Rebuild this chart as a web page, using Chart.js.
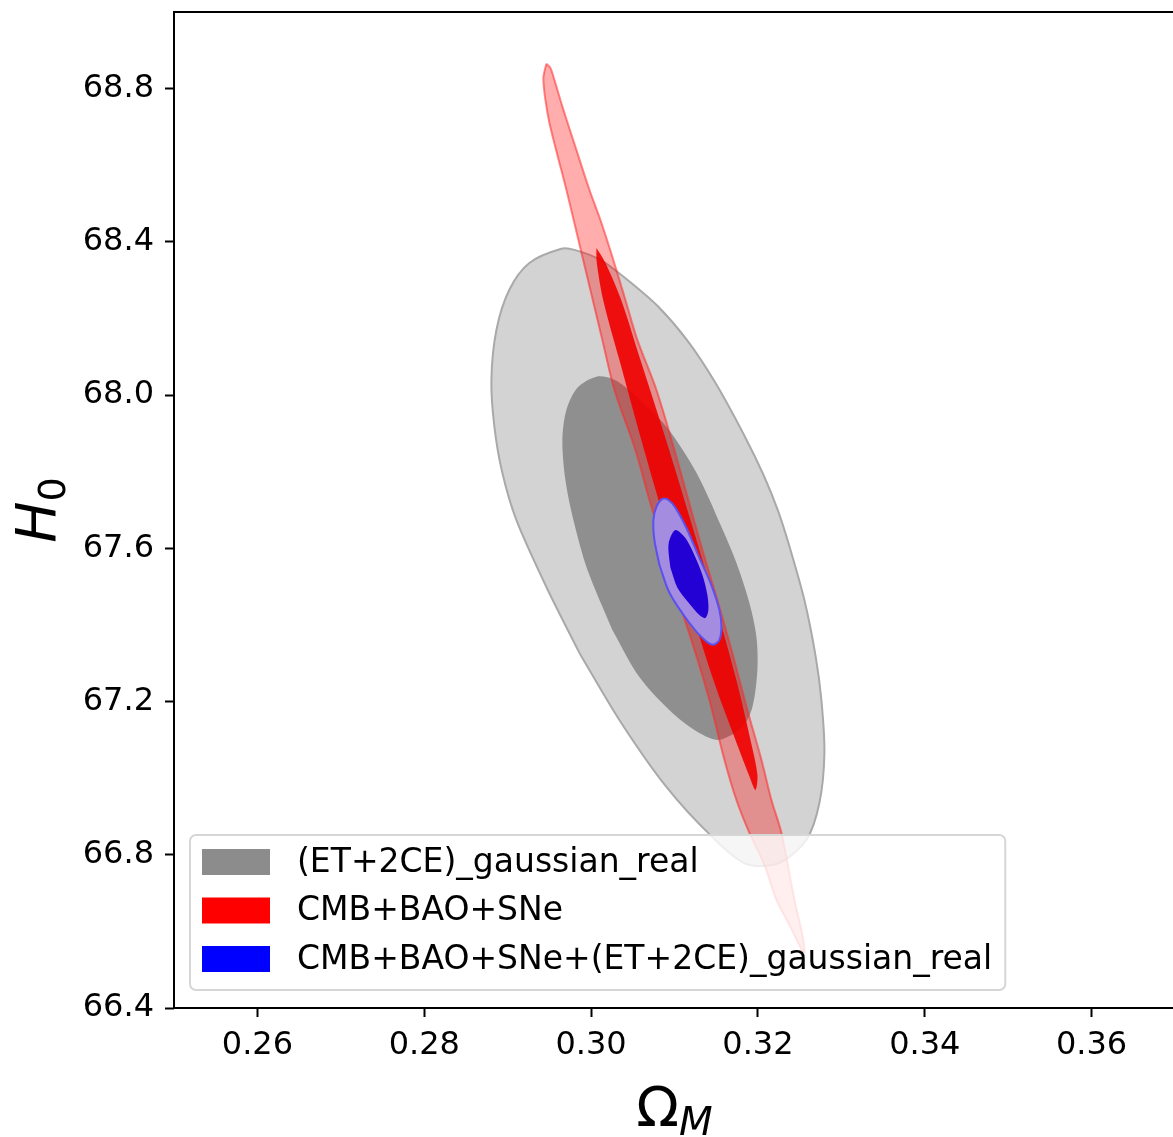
<!DOCTYPE html>
<html>
<head>
<meta charset="utf-8">
<title>Omega_M - H0 contours</title>
<script src="https://cdn.jsdelivr.net/npm/chart.js@4.4.1/dist/chart.umd.min.js"></script>
<style>
  html, body { margin: 0; padding: 0; background: #fff; overflow: hidden; }
  #wrap { position: relative; width: 1180px; height: 1137px; }
</style>
</head>
<body>
<div id="wrap"><canvas id="contours"></canvas></div>
<script>
// axes
const xRange = [0.25, 0.37];
const yRange = [66.4, 69.0];
const xTickValues = [0.26, 0.28, 0.30, 0.32, 0.34, 0.36];
const yTickValues = [66.4, 66.8, 67.2, 67.6, 68.0, 68.4, 68.8];
const xTitle = ['Ω', 'M'];
const yTitle = ['H', '0'];

const seriesLabels = [
  '(ET+2CE)_gaussian_real',
  'CMB+BAO+SNe',
  'CMB+BAO+SNe+(ET+2CE)_gaussian_real'
];
const legendColors = ['#8c8c8c', '#ff0000', '#0000ff'];

// contour outlines, [Omega_M, H0]
const gwOuter = [
  [0.29860, 67.327], [0.30339, 67.152], [0.30903, 66.977], [0.31454, 66.846], [0.31862, 66.776],
  [0.32258, 66.779], [0.32581, 66.839], [0.32737, 66.935], [0.32797, 67.066], [0.32761, 67.204],
  [0.32689, 67.322], [0.32557, 67.465], [0.32390, 67.596], [0.32246, 67.695], [0.32066, 67.792],
  [0.31838, 67.894], [0.31490, 68.032], [0.31155, 68.142], [0.30795, 68.233], [0.30423, 68.303],
  [0.30112, 68.353], [0.29800, 68.379], [0.29644, 68.382], [0.29260, 68.345], [0.29020, 68.275],
  [0.28865, 68.170], [0.28805, 68.040], [0.28841, 67.917], [0.28936, 67.797], [0.29104, 67.674],
  [0.29464, 67.499]
];
const gwInner = [
  [0.30255, 67.387], [0.30579, 67.264], [0.30975, 67.170], [0.31298, 67.118], [0.31538, 67.100],
  [0.31814, 67.134], [0.31934, 67.186], [0.31994, 67.283], [0.31982, 67.369], [0.31898, 67.457],
  [0.31742, 67.562], [0.31562, 67.656], [0.31263, 67.797], [0.30903, 67.917], [0.30519, 68.001],
  [0.30279, 68.040], [0.30064, 68.048], [0.29836, 68.019], [0.29704, 67.961], [0.29656, 67.883],
  [0.29692, 67.779], [0.29788, 67.674], [0.29956, 67.544]
];
const cmbOuter = [
  [0.29464, 68.865], [0.29428, 68.828], [0.29452, 68.771], [0.29500, 68.711], [0.29596, 68.627],
  [0.29704, 68.536], [0.29896, 68.361], [0.30135, 68.144], [0.30279, 68.014], [0.30531, 67.857],
  [0.30699, 67.726], [0.30879, 67.596], [0.31047, 67.465], [0.31251, 67.327], [0.31418, 67.204],
  [0.31598, 67.048], [0.31742, 66.943], [0.31898, 66.857], [0.32078, 66.773], [0.32222, 66.682],
  [0.32378, 66.617], [0.32497, 66.564], [0.32557, 66.544], [0.32533, 66.591], [0.32438, 66.682],
  [0.32282, 66.857], [0.32162, 66.943], [0.32042, 67.048], [0.31874, 67.178], [0.31694, 67.327],
  [0.31514, 67.465], [0.31334, 67.596], [0.31167, 67.726], [0.30999, 67.857], [0.30783, 68.014],
  [0.30555, 68.144], [0.30411, 68.249], [0.30255, 68.361], [0.30112, 68.457], [0.29980, 68.536],
  [0.29824, 68.640], [0.29656, 68.753], [0.29560, 68.823], [0.29512, 68.854]
];
const cmbInner = [
  [0.30064, 68.384], [0.30067, 68.348], [0.30144, 68.249], [0.30339, 68.092], [0.30602, 67.883],
  [0.30875, 67.677], [0.31164, 67.465], [0.31466, 67.256], [0.31730, 67.100], [0.31892, 67.008],
  [0.31970, 66.969], [0.31994, 67.008], [0.31910, 67.100], [0.31742, 67.256], [0.31476, 67.465],
  [0.31187, 67.677], [0.30899, 67.883], [0.30591, 68.092], [0.30360, 68.249], [0.30165, 68.348]
];
const jointOuter = [
  [0.30819, 67.557], [0.30939, 67.484], [0.31179, 67.405], [0.31358, 67.361], [0.31466, 67.348],
  [0.31538, 67.361], [0.31562, 67.395], [0.31538, 67.439], [0.31442, 67.504], [0.31298, 67.575],
  [0.31143, 67.653], [0.31011, 67.706], [0.30927, 67.726], [0.30855, 67.729], [0.30783, 67.708],
  [0.30747, 67.674], [0.30759, 67.622]
];
const jointInner = [
  [0.30951, 67.549], [0.31035, 67.497], [0.31179, 67.455], [0.31298, 67.426], [0.31370, 67.418],
  [0.31406, 67.439], [0.31394, 67.478], [0.31334, 67.531], [0.31227, 67.588], [0.31119, 67.630],
  [0.31011, 67.648], [0.30939, 67.622], [0.30927, 67.596]
];

// close the outline and turn [x, y] pairs into points
const closed = (pts) => pts.concat([pts[0]]).map(([x, y]) => ({ x, y }));

const contour = (label, pts, fillColor, edgeColor, edgeWidth, order) => ({
  label,
  data: closed(pts),
  showLine: true,
  fill: 'shape',
  backgroundColor: fillColor,
  borderColor: edgeColor,
  borderWidth: edgeWidth,
  pointRadius: 0,
  pointHoverRadius: 0,
  tension: 0.3,
  order
});

const FONT = '"DejaVu Sans", "Liberation Sans", sans-serif';

// legend drawn inside the axes, like matplotlib's lower left legend
const legendBox = {
  id: 'legendBox',
  afterDatasetsDraw(chart) {
    const { ctx, chartArea: a } = chart;
    ctx.save();
    ctx.font = '33px ' + FONT;
    const textW = Math.max(...seriesLabels.map(t => ctx.measureText(t).width));
    const x0 = a.left + 16;
    const h = 155;
    const y0 = a.bottom - 18 - h;
    const w = 12 + 68 + 27 + textW + 13;

    ctx.beginPath();
    ctx.roundRect(x0, y0, w, h, 6);
    ctx.fillStyle = 'rgba(255,255,255,0.8)';
    ctx.fill();
    ctx.lineWidth = 2;
    ctx.strokeStyle = '#d6d6d6';
    ctx.stroke();

    seriesLabels.forEach((label, i) => {
      const py = y0 + 14 + i * 48.5;
      ctx.fillStyle = legendColors[i];
      ctx.fillRect(x0 + 12, py, 68, 26);
      ctx.fillStyle = '#000';
      ctx.textBaseline = 'middle';
      ctx.textAlign = 'left';
      ctx.fillText(label, x0 + 107, py + 14);
    });
    ctx.restore();
  }
};

// axes frame and math-style axis titles
const frameAndTitles = {
  id: 'frameAndTitles',
  afterDraw(chart) {
    const { ctx, chartArea: a } = chart;
    ctx.save();
    ctx.strokeStyle = '#000';
    ctx.lineWidth = 2;
    ctx.strokeRect(a.left, a.top, a.right - a.left, a.bottom - a.top);

    ctx.fillStyle = '#000';
    ctx.textAlign = 'left';
    ctx.textBaseline = 'alphabetic';

    // x title
    ctx.font = '56px ' + FONT;
    const wO = ctx.measureText(xTitle[0]).width;
    ctx.font = 'italic 39px ' + FONT;
    const wM = ctx.measureText(xTitle[1]).width;
    const xs = (a.left + a.right) / 2 - (wO + wM) / 2;
    ctx.font = '56px ' + FONT;
    ctx.fillText(xTitle[0], xs, a.bottom + 118);
    ctx.font = 'italic 39px ' + FONT;
    ctx.fillText(xTitle[1], xs + wO, a.bottom + 127);

    // y title, rotated
    ctx.font = 'italic 55px ' + FONT;
    const wH = ctx.measureText(yTitle[0]).width;
    ctx.font = '38px ' + FONT;
    const w0 = ctx.measureText(yTitle[1]).width;
    ctx.translate(a.left - 119, (a.top + a.bottom) / 2);
    ctx.rotate(-Math.PI / 2);
    const ys = -(wH + w0) / 2;
    ctx.font = 'italic 55px ' + FONT;
    ctx.fillText(yTitle[0], ys, 0);
    ctx.font = '38px ' + FONT;
    ctx.fillText(yTitle[1], ys + wH, 10);
    ctx.restore();
  }
};

const tickGrid = {
  drawOnChartArea: false,
  drawTicks: true,
  tickLength: 9,
  tickWidth: 2,
  tickColor: '#000'
};

new Chart(document.getElementById('contours'), {
  type: 'scatter',
  data: {
    datasets: [
      contour(seriesLabels[0], gwOuter, '#d3d3d3', '#a9a9a9', 2, 6),
      contour(seriesLabels[0], gwInner, '#8f8f8f', 'rgba(0,0,0,0)', 1, 5),
      contour(seriesLabels[1], cmbOuter, 'rgba(255,0,0,0.32)', 'rgba(255,40,40,0.55)', 2, 4),
      contour(seriesLabels[1], cmbInner, 'rgba(240,0,0,0.9)', 'rgba(0,0,0,0)', 1, 3),
      contour(seriesLabels[2], jointOuter, '#a48ce0', '#5b50f0', 2, 2),
      contour(seriesLabels[2], jointInner, '#2300d3', 'rgba(0,0,0,0)', 1, 1)
    ]
  },
  options: {
    responsive: true,
    maintainAspectRatio: false,
    animation: false,
    events: [],
    layout: { padding: { top: 12, right: 5, left: 0, bottom: 0 } },
    plugins: {
      legend: { display: false },
      tooltip: { enabled: false }
    },
    scales: {
      x: {
        type: 'linear',
        min: xRange[0],
        max: xRange[1],
        border: { display: false },
        grid: tickGrid,
        ticks: {
          color: '#000',
          padding: 9,
          maxRotation: 0,
          font: { family: FONT, size: 32 },
          callback: v => v.toFixed(2)
        },
        afterBuildTicks: s => { s.ticks = xTickValues.map(v => ({ value: v })); },
        afterFit: s => { s.height = 129; s.paddingLeft = 0; s.paddingRight = 0; }
      },
      y: {
        type: 'linear',
        min: yRange[0],
        max: yRange[1],
        border: { display: false },
        grid: tickGrid,
        ticks: {
          color: '#000',
          padding: 11,
          font: { family: FONT, size: 32 },
          callback: v => v.toFixed(1)
        },
        afterBuildTicks: s => { s.ticks = yTickValues.map(v => ({ value: v })); },
        afterFit: s => { s.width = 174; s.paddingTop = 0; s.paddingBottom = 0; }
      }
    }
  },
  plugins: [legendBox, frameAndTitles]
});
</script>
</body>
</html>
